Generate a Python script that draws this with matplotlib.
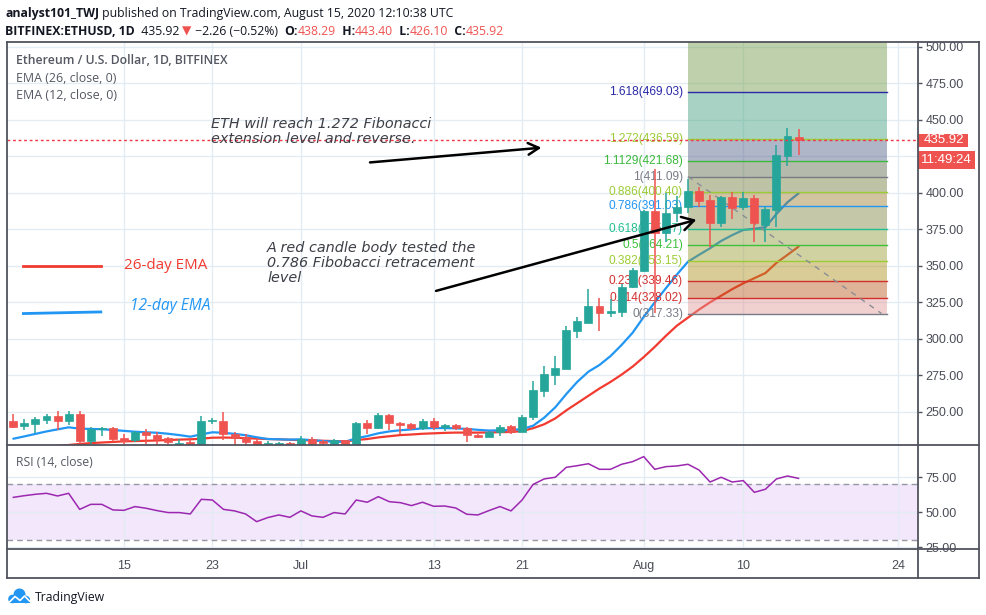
import numpy as np
import pandas as pd
import matplotlib
matplotlib.use("Agg")
import matplotlib.pyplot as plt
import matplotlib.dates as mdates
from matplotlib.patches import Rectangle, Circle

W, H = 987, 615

# ---- data (ETH/USD daily, Bitfinex) ----
dates = pd.date_range("2020-06-05", "2020-08-15", freq="D")

opens = [243.7, 240.0, 241.9, 244.6, 247.1, 244.0, 248.5, 230.2, 238.3, 238.9,
         232.3, 230.7, 236.0, 234.1, 232.1, 228.3, 229.6, 227.3, 243.5, 243.7,
         234.9, 232.6, 230.2, 228.0, 227.3, 228.7, 227.3, 231.4, 229.9, 227.3,
         230.5, 227.3, 242.3, 238.9, 247.8, 242.3, 241.7, 239.1, 243.7, 239.6,
         241.0, 238.9, 234.1, 233.0, 236.0, 240.3, 236.2, 246.3, 264.5, 275.2,
         279.3, 305.6, 311.0, 322.5, 317.5, 318.6, 335.3, 346.6, 387.5, 372.3,
         386.0, 390.0, 401.2, 395.0, 379.1, 396.9, 390.0, 396.2, 377.9, 388.2,
         425.4, 438.29]
highs = [248.5, 245.1, 246.5, 248.5, 250.8, 250.8, 250.8, 239.4, 239.4, 239.4,
         234.6, 236.7, 238.3, 236.0, 232.8, 231.4, 231.9, 247.1, 246.0, 249.9,
         236.4, 234.6, 231.8, 230.0, 229.6, 229.6, 233.3, 232.6, 231.0, 231.4,
         231.0, 242.8, 244.4, 249.2, 248.5, 242.8, 242.3, 245.1, 246.0, 241.7,
         241.7, 239.6, 234.6, 236.9, 241.0, 241.0, 247.8, 271.1, 281.6, 288.5,
         308.8, 315.1, 333.9, 327.7, 327.0, 337.5, 348.3, 388.5, 416.0, 400.0,
         398.0, 409.2, 404.2, 398.5, 397.5, 400.3, 400.3, 398.5, 390.5, 432.7,
         444.3, 443.40]
lows = [238.9, 237.8, 235.3, 241.5, 237.8, 241.0, 228.0, 228.0, 233.7, 229.6,
        227.8, 229.1, 227.8, 227.0, 227.0, 227.0, 226.5, 226.5, 241.5, 230.7,
        226.5, 226.5, 226.0, 226.0, 226.0, 226.0, 226.5, 226.5, 226.5, 226.5,
        226.0, 226.5, 235.0, 238.0, 237.8, 235.0, 237.8, 237.8, 237.8, 237.1,
        237.8, 229.1, 232.3, 232.6, 233.7, 234.6, 236.2, 244.5, 260.4, 268.4,
        279.0, 300.4, 311.0, 305.6, 314.7, 315.1, 335.0, 346.0, 318.0, 366.5,
        380.2, 386.0, 390.5, 363.1, 376.4, 382.2, 388.2, 366.1, 366.0, 376.8,
        418.3, 426.10]
closes = [239.6, 242.3, 245.3, 247.3, 244.0, 248.5, 230.2, 238.3, 238.6, 231.6,
          230.2, 236.0, 234.4, 231.4, 229.4, 228.6, 227.3, 243.7, 243.8, 234.6,
          232.1, 229.6, 227.3, 228.5, 228.7, 227.3, 231.4, 227.8, 228.5, 230.5,
          227.3, 242.3, 239.1, 247.6, 242.3, 241.0, 239.1, 243.7, 239.6, 241.0,
          238.9, 233.9, 232.8, 236.2, 239.6, 236.2, 246.5, 265.0, 275.9, 280.2,
          306.0, 312.2, 322.5, 317.5, 319.0, 335.3, 347.1, 387.5, 372.3, 386.0,
          390.5, 401.2, 394.4, 379.1, 396.9, 389.8, 396.2, 379.1, 388.9, 425.9,
          438.9, 435.92]

ema12 = [231.6, 233.2, 234.9, 236.6, 238.0, 239.4, 238.5, 238.3, 238.1, 237.6,
         237.0, 236.4, 236.0, 235.7, 235.0, 234.1, 233.0, 234.6, 236.0, 235.7,
         234.9, 234.0, 232.6, 231.4, 231.2, 231.0, 231.2, 230.6, 230.0, 229.6,
         229.5, 231.9, 233.4, 235.3, 236.6, 237.4, 238.0, 238.7, 238.9, 238.9,
         238.7, 238.3, 237.7, 237.2, 237.4, 237.6, 238.2, 240.5, 246.0, 253.1,
         262.2, 270.6, 277.5, 282.1, 288.2, 295.8, 304.2, 315.0, 325.0, 334.6,
         344.0, 352.8, 357.5, 362.0, 367.0, 371.0, 374.5, 375.3, 376.4, 385.5,
         393.5, 399.6]
ema26 = [224.5, 225.0, 225.6, 226.1, 226.7, 227.3, 228.0, 228.6, 229.0, 229.4,
         229.8, 230.0, 230.2, 230.4, 230.7, 231.0, 231.2, 231.6, 232.3, 232.4,
         232.3, 232.0, 231.7, 231.4, 231.2, 230.9, 230.6, 230.4, 230.2, 230.0,
         229.8, 230.7, 231.4, 232.5, 233.3, 234.1, 234.5, 235.0, 235.3, 235.6,
         235.8, 235.8, 235.8, 235.9, 236.1, 236.2, 236.9, 238.8, 241.5, 245.5,
         251.0, 256.0, 261.0, 266.0, 270.5, 275.5, 281.0, 287.5, 294.5, 302.0,
         309.0, 314.5, 320.0, 325.0, 329.5, 334.0, 338.0, 341.5, 345.0, 352.0,
         357.5, 363.1]
rsi = [60.7, 61.9, 62.9, 63.6, 61.7, 63.6, 52.1, 55.7, 55.7, 51.7,
       51.4, 54.1, 52.9, 51.2, 49.8, 49.8, 48.8, 59.3, 58.8, 52.1,
       51.0, 48.8, 43.3, 46.2, 48.1, 46.4, 51.0, 47.4, 46.4, 49.8,
       48.8, 58.8, 57.2, 61.2, 57.6, 56.9, 54.8, 57.2, 54.3, 54.5,
       53.1, 48.6, 48.1, 51.2, 54.1, 51.0, 58.8, 70.0, 73.9, 75.1,
       82.2, 83.4, 84.8, 80.8, 80.8, 84.4, 86.3, 89.9, 80.8, 82.7,
       83.2, 84.4, 80.3, 71.7, 75.1, 71.7, 72.7, 64.3, 66.5, 73.9,
       76.0, 74.3]

# Fibonacci tool (levels and prices as labelled on the chart)
fib_ratios = ["0", "0.114", "0.236", "0.382", "0.5", "0.618", "0.786",
              "0.886", "1", "1.1129", "1.272", "1.618", "2.618"]
fib_prices = [317.33, 328.02, 339.46, 353.15, 364.21, 375.27, 391.03,
              400.40, 411.09, 421.68, 436.59, 469.03, 562.79]
fib_colors = ["#787b86", "#d32f2f", "#d32f2f", "#9ccc35", "#3cc13c", "#22c08e",
              "#2196f3", "#9ccc35", "#787b86", "#3cb83c", "#9ccc35", "#2a2aa8",
              "#787b86"]
# look of each band over white
fib_band_rgb = [(242, 208, 208), (224, 180, 152), (217, 204, 152), (210, 211, 162),
                (204, 210, 166), (196, 200, 170), (211, 196, 161), (191, 195, 166),
                (181, 187, 172), (176, 182, 200), (168, 212, 196), (190, 210, 172)]
fib_start = pd.Timestamp("2020-08-05")
fib_end = pd.Timestamp("2020-08-23")

price_ticks = [250, 275, 300, 325, 350, 375, 400, 425, 450, 475, 500]
price_hidden = [425]          # label sits under the countdown box
rsi_ticks = [25, 50, 75]
date_ticks = pd.to_datetime(["2020-06-15", "2020-06-23", "2020-07-01", "2020-07-13",
                             "2020-07-21", "2020-08-01", "2020-08-10", "2020-08-24"])
date_labels = ["15", "23", "Jul", "13", "21", "Aug", "10", "24"]

last_price = 435.92
countdown = "11:49:24"

GREEN = "#26a69a"
RED = "#ef5350"
GRID = "#e3ecf3"
FRAME = "#50535e"
TXT = "#4a4d56"
AXFONT = ["Liberation Sans", "DejaVu Sans"]

plt.rcParams["font.family"] = ["DejaVu Sans"]

fig = plt.figure(figsize=(W / 100, H / 100), dpi=100)
fig.patch.set_facecolor("white")

x_left, x_sep, x_right = 6.7, 918.0, 979.0
y_top, y_mid, y_rsi, y_bot = 42.0, 445.3, 549.0, 578.0
plot_w = x_sep - x_left


def fx(px):
    return px / W


def fy(py):
    return 1 - py / H


ax = fig.add_axes([fx(x_left), fy(y_mid), fx(plot_w), (y_mid - y_top) / H])
ax_r = fig.add_axes([fx(x_left), fy(y_rsi), fx(plot_w), (y_rsi - y_mid) / H], sharex=ax)

xd = mdates.date2num(dates)
jul1 = mdates.date2num(pd.Timestamp("2020-07-01"))
ax.set_xlim(jul1 - 26.6, jul1 + 55.8)
ax.set_ylim(227.1, 503.2)
ax_r.set_ylim(23.7, 98.0)

for a in (ax, ax_r):
    for s in a.spines.values():
        s.set_visible(False)
    a.set_xticks(mdates.date2num(date_ticks))
    a.grid(True, color=GRID, lw=1, zorder=0)
    a.set_axisbelow(True)
    a.yaxis.tick_right()
    a.tick_params(axis="y", length=3, width=1, color=FRAME, pad=2.5,
                  labelsize=9, labelcolor=TXT)

ax.tick_params(axis="x", length=0, labelbottom=False)
ax_r.tick_params(axis="x", length=0, pad=8, labelsize=9, labelcolor=TXT)
ax.set_yticks(price_ticks)
ax.set_yticklabels(["" if v in price_hidden else f"{v:.2f}" for v in price_ticks],
                   family=AXFONT)
ax_r.set_yticks(rsi_ticks)
ax_r.set_yticklabels([f"{v:.2f}" for v in rsi_ticks], family=AXFONT)
ax_r.set_xticklabels(date_labels, family=AXFONT)

# ---- EMA lines ----
ax.plot(xd, ema26, color="#f23b30", lw=1.6, zorder=1.2, solid_capstyle="round")
ax.plot(xd, ema12, color="#2196f3", lw=1.6, zorder=1.2, solid_capstyle="round")

# ---- fib tool ----
a_fill = 0.45
fs, fe = mdates.date2num(fib_start), mdates.date2num(fib_end)
for i in range(len(fib_band_rgb)):
    rgb = np.array(fib_band_rgb[i]) / 255.0
    base = np.clip((rgb - (1 - a_fill)) / a_fill, 0, 1)
    ax.fill_between([fs, fe], fib_prices[i], fib_prices[i + 1], color=base,
                    alpha=a_fill, lw=0, zorder=1.5)
for r, p, c in zip(fib_ratios, fib_prices, fib_colors):
    ax.plot([fs, fe], [p, p], color=c, lw=1, zorder=2)
    ax.annotate(f"{r}({p:.2f})", xy=(fs, p), xytext=(-3.5, 0), textcoords="offset points",
                ha="right", va="center", fontsize=8.6, color=c, family="Liberation Sans",
                zorder=2, annotation_clip=True)
ax.plot([fs, fs + 17.5], [fib_prices[8], fib_prices[0]], color="#8a8d96", lw=1,
        ls=(0, (4, 4)), zorder=2)

# ---- candles ----
width = 0.72
for x, o, h, l, c in zip(xd, opens, highs, lows, closes):
    col = GREEN if c >= o else RED
    ax.plot([x, x], [l, h], color=col, lw=1.1, zorder=3, solid_capstyle="butt")
    lo, hi = min(o, c), max(o, c)
    ax.add_patch(Rectangle((x - width / 2, lo), width, max(hi - lo, 0.6),
                           facecolor=col, edgecolor=col, lw=0.5, zorder=3.1))

# last price line + price-scale labels
ax.axhline(last_price, color="#f23645", lw=1, ls=(0, (2, 2)), zorder=3.5)
yt = ax.get_yaxis_transform()
ax.add_patch(Rectangle((1.0, last_price - 4.55), 50 / plot_w, 9.1, transform=yt,
                       clip_on=False, fc=RED, ec="none", zorder=5))
ax.text(1.0 + 26 / plot_w, last_price, f"{last_price:.2f}", transform=yt, ha="center",
        va="center", fontsize=9.5, color="white", family=AXFONT, zorder=6, clip_on=False)
ax.add_patch(Rectangle((1.0, last_price - 13.4 - 6.25), 57 / plot_w, 12.5, transform=yt,
                       clip_on=False, fc=RED, ec="none", zorder=5))
ax.text(1.0 + 28 / plot_w, last_price - 13.6, countdown, transform=yt, ha="center",
        va="center", fontsize=9.5, color="white", family=AXFONT, zorder=6, clip_on=False)

# ---- drawings / annotations ----
def dnum(s, extra=0.0):
    return mdates.date2num(pd.Timestamp(s)) + extra

note = "#3d3f47"
ax.text(dnum("2020-06-22", 0.85), 451.8,
        "ETH will reach 1.272 Fibonacci\nextension level and reverse.",
        style="italic", fontsize=10.4, color=note, va="top", ha="left",
        linespacing=1.12, zorder=4)
ax.annotate("", xy=(dnum("2020-07-23", 0.0), 431.0), xytext=(dnum("2020-07-07", 0.0), 420.6),
            arrowprops=dict(arrowstyle="->,head_length=0.55,head_width=0.3",
                            color="black", lw=1.8, mutation_scale=14), zorder=4)
ax.text(dnum("2020-06-27", 0.95), 367.0,
        "A red candle body tested the\n0.786 Fibobacci retracement\nlevel",
        style="italic", fontsize=10.4, color=note, va="top", ha="left",
        linespacing=1.08, zorder=4)
ax.annotate("", xy=(dnum("2020-08-06", 0.0), 382.0), xytext=(dnum("2020-07-12", 0.98), 332.3),
            arrowprops=dict(arrowstyle="->,head_length=0.6,head_width=0.35",
                            color="black", lw=1.8, mutation_scale=14), zorder=4)

ax.plot([dnum("2020-06-05", 0.91), dnum("2020-06-12", 0.91)], [350.1, 350.1],
        color="#f23b30", lw=2, zorder=4)
ax.text(dnum("2020-06-15", 0.01), 350.1, "26-day EMA", color="#f23b30",
        fontsize=10.9, va="center", ha="left", zorder=4, family="Open Sans")
ax.plot([dnum("2020-06-05", 0.91), dnum("2020-06-12", 0.91)], [317.3, 318.4],
        color="#2196f3", lw=2, zorder=4)
ax.text(dnum("2020-06-15", 0.56), 322.5, "12-day EMA", color="#2196f3",
        fontsize=11.2, style="italic", va="center", ha="left", zorder=4, family="Open Sans")

# ---- RSI panel ----
ax_r.axhspan(30, 70, color="#8a2be2", alpha=0.11, lw=0, zorder=0.5)
for lv in (30, 70):
    ax_r.axhline(lv, color="#9598a1", lw=1, ls=(0, (4, 3)), zorder=1)
ax_r.plot(xd, rsi, color="#9c27b0", lw=1.1, zorder=2)

# ---- overlay: frame, headers, logo ----
ov = fig.add_axes([0, 0, 1, 1], zorder=10)
ov.set_xlim(0, W)
ov.set_ylim(H, 0)
ov.axis("off")
ov.patch.set_alpha(0)

for (x0, y0, x1, y1) in [(x_left, y_top, x_right, y_top), (x_left, y_bot, x_right, y_bot),
                         (x_left, y_top, x_left, y_bot), (x_right, y_top, x_right, y_bot),
                         (x_sep, y_top, x_sep, y_bot), (x_left, y_mid, x_right, y_mid),
                         (x_left, y_rsi, x_right, y_rsi)]:
    ov.plot([x0, x1], [y0, y1], color=FRAME, lw=1.3, solid_capstyle="projecting")

renderer = fig.canvas.get_renderer()
HFONT = ["Open Sans", "DejaVu Sans"]


def put(x, y, pieces, size, target=None):
    # draw a row of differently styled pieces, optionally squeezed to a width
    def row(sz, draw):
        cx = x
        arts = []
        for s, col, wt in pieces:
            t = ov.text(cx, y, s, color=col, fontweight=wt, fontsize=sz, family=HFONT,
                        va="center", ha="left")
            cx += t.get_window_extent(renderer=renderer).width
            arts.append(t)
        if not draw:
            for t in arts:
                t.remove()
        return cx - x
    if target:
        size = size * target / row(size, False)
    row(size, True)


hdr = "#131722"
put(5, 13.5, [("analyst101_TWJ", hdr, "bold"),
              (" published on TradingView.com, August 15, 2020 12:10:38 UTC", hdr, "normal")],
    10, target=449)
put(5, 31.5, [("BITFINEX:ETHUSD, 1D", hdr, "bold"), ("  435.92 ", hdr, "normal"),
              ("\u25bc", RED, "normal"), (" \u22122.26 (\u22120.52%)  ", hdr, "normal"),
              ("O:", hdr, "bold"), ("438.29", RED, "normal"), ("  H:", hdr, "bold"),
              ("443.40", RED, "normal"), ("  L:", hdr, "bold"), ("426.10", RED, "normal"),
              ("  C:", hdr, "bold"), ("435.92", RED, "normal")],
    10, target=498)

put(15.7, 61, [("Ethereum / U.S. Dollar, 1D, BITFINEX", "#555862", "semibold")], 9.5, target=214)
put(15.7, 78.5, [("EMA (26, close, 0)", "#555862", "normal")], 9.5, target=101)
put(15.7, 95.5, [("EMA (12, close, 0)", "#555862", "normal")], 9.5, target=101)
put(15.7, 462.5, [("RSI (14, close)", "#555862", "normal")], 9.5, target=77)

# TradingView logo
blue = "#2196f3"
for cx, cy, rr in [(12.5, 599, 4.3), (19.5, 594.5, 6.0), (26, 599.5, 3.8)]:
    ov.add_patch(Circle((cx, cy), rr, color=blue, lw=0))
ov.add_patch(Rectangle((8.5, 598), 21, 5.3, color=blue, lw=0))
ov.plot([9.5, 15, 20, 24.5, 29.5], [602, 596.5, 600.5, 596, 601], color="white", lw=1.2)
put(34.5, 597, [("TradingView", "#131722", "normal")], 10, target=70)

fig.savefig("out.png", dpi=100, facecolor="white")
